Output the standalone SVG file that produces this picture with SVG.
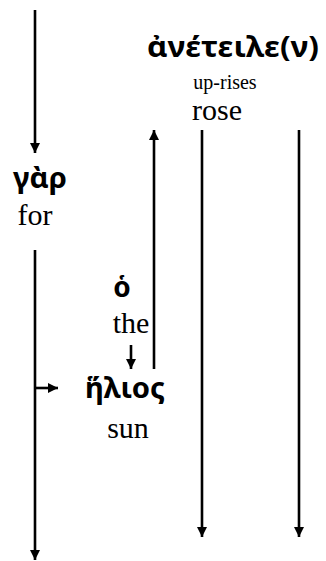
<svg xmlns="http://www.w3.org/2000/svg" width="326" height="561" viewBox="0 0 326 561">
<style>
.gk{font-family:"Noto Sans","DejaVu Sans",sans-serif;font-weight:bold;fill:#000}
.en{font-family:"Liberation Serif","Times New Roman",serif;fill:#000}
.ln{stroke:#000;stroke-width:2.6;fill:none}
</style>
<defs>
<marker id="ah" markerUnits="userSpaceOnUse" markerWidth="12" markerHeight="12" viewBox="0 0 12 12" refX="10" refY="6" orient="auto">
<path d="M0,1 L10,6 L0,11 Z" fill="#000"/>
</marker>
</defs>
<rect width="326" height="561" fill="#fff"/>
<g id="connectors">
<line class="ln" x1="35" y1="10" x2="35" y2="153" marker-end="url(#ah)"/>
<line class="ln" x1="35" y1="250" x2="35" y2="560" marker-end="url(#ah)"/>
<line class="ln" x1="35" y1="388" x2="58" y2="388" marker-end="url(#ah)"/>
<line class="ln" x1="154" y1="369" x2="154" y2="130" marker-end="url(#ah)"/>
<line class="ln" x1="131" y1="345" x2="131" y2="369" marker-end="url(#ah)"/>
<line class="ln" x1="202" y1="130" x2="202" y2="537" marker-end="url(#ah)"/>
<line class="ln" x1="299" y1="130" x2="299" y2="537" marker-end="url(#ah)"/>
</g>
<g id="aneteile">
<text class="gk" x="233" y="57" font-size="28" text-anchor="middle" textLength="172" lengthAdjust="spacingAndGlyphs">ἀνέτειλε(ν)</text>
<text class="en" x="225" y="89" font-size="20" text-anchor="middle">up-rises</text>
<text class="en" x="217" y="120" font-size="30" text-anchor="middle">rose</text>
</g>
<g id="gar">
<text class="gk" x="40" y="188" font-size="28" text-anchor="middle" textLength="54" lengthAdjust="spacingAndGlyphs">γὰρ</text>
<text class="en" x="35" y="225" font-size="30" text-anchor="middle">for</text>
</g>
<g id="ho">
<text class="gk" x="122" y="297" font-size="28" text-anchor="middle">ὁ</text>
<text class="en" x="131" y="333" font-size="30" text-anchor="middle">the</text>
</g>
<g id="helios">
<text class="gk" x="125" y="398" font-size="28" text-anchor="middle" textLength="80" lengthAdjust="spacingAndGlyphs">ἥλιος</text>
<text class="en" x="128" y="438" font-size="30" text-anchor="middle">sun</text>
</g>
</svg>
